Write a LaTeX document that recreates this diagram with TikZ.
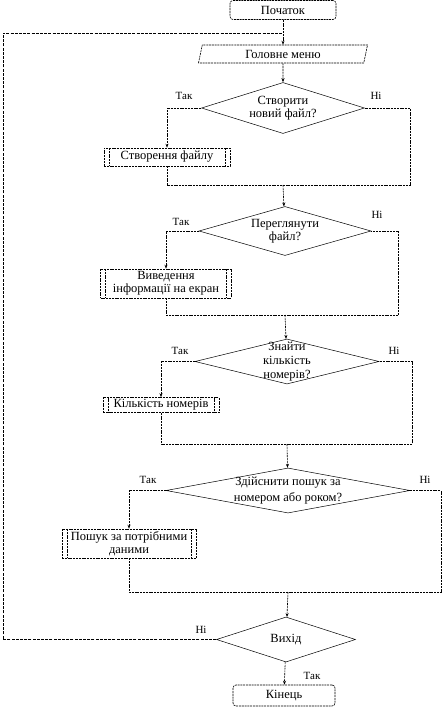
\documentclass[tikz,border=0pt]{standalone}
\usepackage{fontspec}
\setmainfont{Liberation Serif}
\usetikzlibrary{arrows.meta, calc, shapes.geometric}

\begin{document}
\begin{tikzpicture}[
      x=1pt,
      y=-1pt,
      font=\rmfamily\fontsize{12.5}{13}\selectfont,
      line/.style={
        draw,
        line width=0.6pt,
        dash pattern=on 2pt off 0.8pt
      },
      arr/.style={
        line,
        -{Stealth[length=4pt, width=3pt]}
      },
      term/.style={
        line,
        rounded corners=3pt,
        inner sep=0pt
      },
      io/.style={
        line,
        trapezium,
        trapezium left angle=78,
        trapezium right angle=102,
        trapezium stretches=true,
        inner sep=0pt
      },
      dec/.style={
        diamond,
        draw,
        line width=0.5pt,
        inner sep=0pt
      },
      sub/.style={
        line,
        inner sep=0pt,
        align=center,
        path picture={
          \draw[line width=0.7pt]
            ([xshift=5pt]path picture bounding box.north west) --
            ([xshift=5pt]path picture bounding box.south west)
            ([xshift=-5pt]path picture bounding box.north east) --
            ([xshift=-5pt]path picture bounding box.south east);
        }
      },
      answer/.style={
        font=\rmfamily\fontsize{11}{12}\selectfont,
        inner sep=0pt
      }
  ]

    \useasboundingbox (0,0) rectangle (443,709);

    % blocks
    \node[term, minimum width=106, minimum height=19] (start) at (283,10) {Початок};
    \node[io, minimum width=170, minimum height=18] (menu) at (283,54) {Головне меню};

    \node[dec, minimum width=163, minimum height=51,
      label={[align=center]center:{Створити\\новий файл?}}] (d1) at (283,108) {};
    \node[sub, minimum width=126, minimum height=18] (b1) at (167,157) {Створення файлу};

    \node[dec, minimum width=172, minimum height=49,
      label={[align=center]center:{Переглянути\\файл?}}] (d2) at (285,231) {};
    \node[sub, minimum width=131, minimum height=29] (b2) at (166,283.5) {Виведення\\інформації на екран};

    \node[dec, minimum width=184, minimum height=45,
      label={[align=center, font=\rmfamily\fontsize{12.5}{14}\selectfont]center:{Знайти\\кількість\\номерів?}}] (d3) at (287,361.5) {};
    \node[sub, minimum width=116, minimum height=15] (b3) at (161,405) {Кількість номерів};

    \node[dec, minimum width=244, minimum height=45,
      label={[align=center, font=\rmfamily\fontsize{12.5}{16}\selectfont]center:{Здійснити пошук за\\номером або роком?}}] (d4) at (288,490.5) {};
    \node[sub, minimum width=134, minimum height=29] (b4) at (129,543.5) {Пошук за потрібними\\даними};

    \node[dec, minimum width=139, minimum height=45,
      label={center:Вихід}] (d5) at (286,639.5) {};
    \node[term, minimum width=102, minimum height=21] (end) at (284,695.5) {Кінець};

    % joints
    \coordinate (j1) at (283,185);
    \coordinate (r1) at (410,185);
    \coordinate (j2) at (285,315);
    \coordinate (r2) at (398,315);
    \coordinate (j3) at (287,444);
    \coordinate (r3) at (412,444);
    \coordinate (j4) at (288,592);
    \coordinate (r4) at (441,592);
    \coordinate (back) at (3,33);
    \coordinate (entry) at (283,33);

    % answers
    \node[answer] (yes1) at (184,96) {Так};
    \node[answer] (no1) at (376,96) {Ні};
    \node[answer] (yes2) at (181,222) {Так};
    \node[answer] (no2) at (377,215) {Ні};
    \node[answer] (yes3) at (180,351) {Так};
    \node[answer] (no3) at (394,351) {Ні};
    \node[answer] (yes4) at (148,480) {Так};
    \node[answer] (no4) at (425,480) {Ні};
    \node[answer] (no5) at (201,630) {Ні};
    \node[answer] (yes5) at (312,676) {Так};

    % connectors
    \draw[arr] (start) -- (menu);
    \draw[arr] (menu) -- (d1);
    \draw[arr] (d1.west) -| (b1.north);
    \draw[line] (b1.south) |- (r1) |- (d1.east);
    \draw[arr] (j1) -- (d2);

    \draw[arr] (d2.west) -| (b2.north);
    \draw[line] (b2.south) |- (r2) |- (d2.east);
    \draw[arr] (j2) -- (d3);

    \draw[arr] (d3.west) -| (b3.north);
    \draw[line] (b3.south) |- (r3) |- (d3.east);
    \draw[arr] (j3) -- (d4);

    \draw[arr] (d4.west) -| (b4.north);
    \draw[line] (b4.south) |- (r4) |- (d4.east);
    \draw[arr] (j4) -- (d5);

    \draw[arr] (d5) -- (end);
    \draw[line, line width=0.8pt, dash pattern=on 3pt off 1.2pt]
      (d5.west) -| (back) -- (entry);

\end{tikzpicture}
\end{document}
